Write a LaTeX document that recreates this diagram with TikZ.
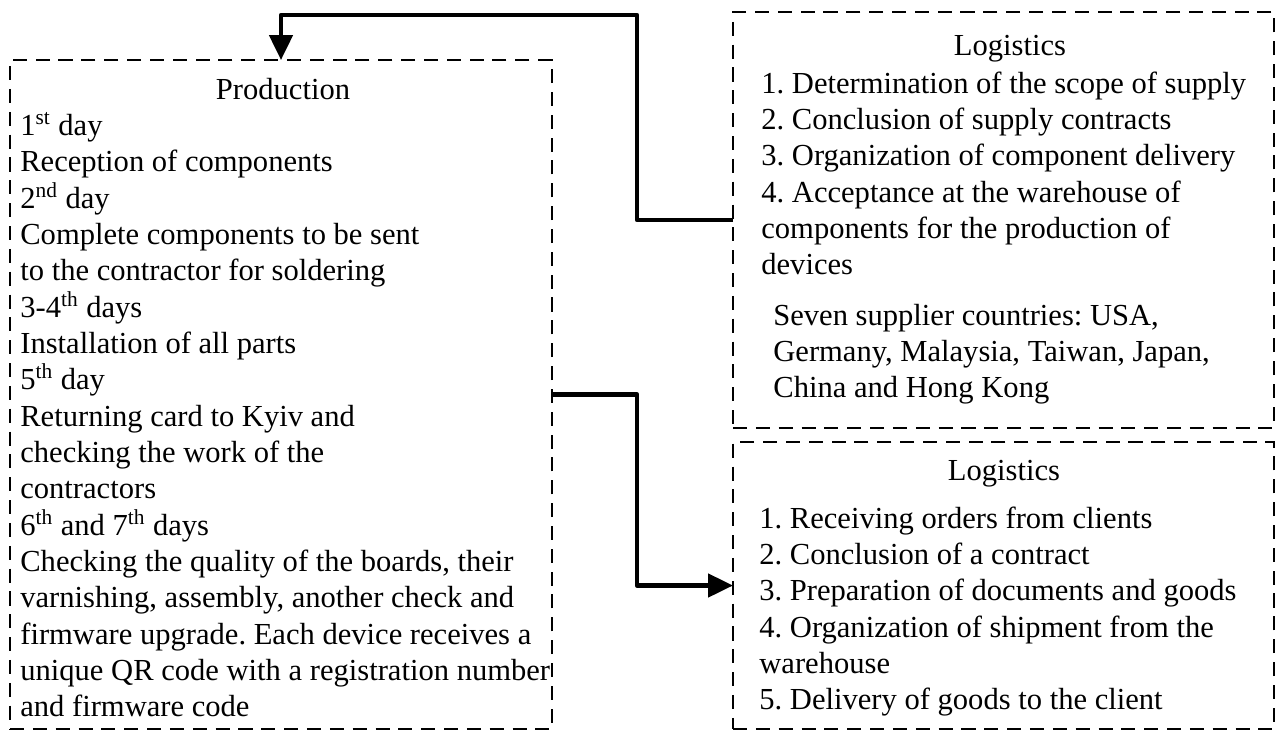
\documentclass[tikz,border=0pt]{standalone}
\usepackage{fontspec}
\setmainfont{Liberation Serif}
\usetikzlibrary{arrows.meta,positioning,calc}
\frenchspacing

\begin{document}
\begin{tikzpicture}[x=0.02cm,y=-0.02cm,
  box/.style={draw,dash pattern=on 8pt off 5pt,line width=1.1pt,inner sep=0pt,outer sep=0pt},
  link/.style={line width=2.6pt,line join=round,-{Triangle[length=0.5cm,width=0.46cm]}},
  txt/.style={anchor=base west,inner sep=0pt,font=\fontsize{17.4}{20.6}\selectfont},
  ttl/.style={anchor=base,inner sep=0pt,font=\fontsize{17.4}{20.6}\selectfont}]
\useasboundingbox (0,0) rectangle (1285,731);
\node[box,minimum width=10.84cm,minimum height=13.38cm] (prod) at (281,394.5) {};
\node[box,minimum width=10.82cm,minimum height=8.32cm] (supply) at (1003.5,220) {};
\node[box,minimum width=10.82cm,minimum height=5.74cm] (sales) at (1003.5,585.5) {};
\node[ttl] (prodT) at (283,99) {Production};
\foreach \t [count=\i] in {1\textsuperscript{st} day,Reception of components,2\textsuperscript{nd} day,
  Complete components to be sent,to the contractor for soldering,3-4\textsuperscript{th} days,
  Installation of all parts,5\textsuperscript{th} day,Returning card to Kyiv and,
  checking the work of the,contractors,6\textsuperscript{th} and 7\textsuperscript{th} days,
  {Checking the quality of the boards, their},{varnishing, assembly, another check and},
  firmware upgrade. Each device receives a,unique QR code with a registration number,
  and firmware code}
  \node[txt] (prod\i) at (20,{99+36.35*\i}) {\t};
\node[ttl] (supT) at (1010,55) {Logistics};
\foreach \t [count=\i] in {1. Determination of the scope of supply,2. Conclusion of supply contracts,
  3. Organization of component delivery,4. Acceptance at the warehouse of,
  components for the production of,devices}
  \node[txt] (sup\i) at (761,{56.65+36.35*\i}) {\t};
\foreach \t [count=\i] in {{Seven supplier countries: USA,},{Germany, Malaysia, Taiwan, Japan,},
  China and Hong Kong}
  \node[txt] (cty\i) at (773,{289+36*\i}) {\t};
\node[ttl] (salT) at (1004,480) {Logistics};
\foreach \t [count=\i] in {1. Receiving orders from clients,2. Conclusion of a contract,
  3. Preparation of documents and goods,4. Organization of shipment from the,
  warehouse,5. Delivery of goods to the client}
  \node[txt] (sal\i) at (759,{491.65+36.35*\i}) {\t};
\draw[link] (supply.west) -- ++(-96,0) |- ($(prod.north)+(0,-45)$) -- (prod.north);
\draw[link] (prod.east) -- ++(85,0) |- (sales.west);
\end{tikzpicture}
\end{document}
